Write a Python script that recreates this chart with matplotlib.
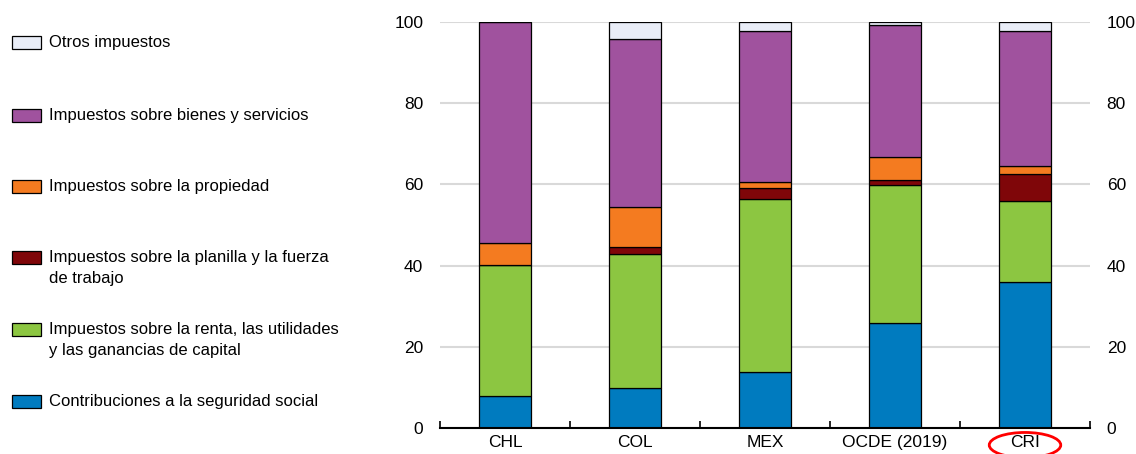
import numpy as np
import matplotlib.pyplot as plt
from matplotlib.patches import Rectangle, Ellipse
import matplotlib.transforms as mtransforms

plt.rcParams['font.family'] = ['Liberation Sans Narrow', 'Liberation Sans', 'DejaVu Sans']

countries = ['CHL', 'COL', 'MEX', 'OCDE (2019)', 'CRI']
# shares of total tax revenue, %
social = [7.8, 9.8, 13.7, 25.9, 35.9]
income = [32.4, 33.0, 42.6, 33.9, 20.1]
payroll = [0.0, 1.9, 2.7, 1.3, 6.6]
property_ = [5.3, 9.7, 1.6, 5.6, 2.0]
goods = [54.5, 41.5, 37.3, 32.6, 33.3]
other = [0.0, 4.1, 2.1, 0.7, 2.1]

labels = ['Contribuciones a la seguridad social',
          'Impuestos sobre la renta, las utilidades\ny las ganancias de capital',
          'Impuestos sobre la planilla y la fuerza\nde trabajo',
          'Impuestos sobre la propiedad',
          'Impuestos sobre bienes y servicios',
          'Otros impuestos']
colors = ['#007bbf', '#8cc641', '#7f0609', '#f47b20', '#a0529e', '#e9edf7']
series = [social, income, payroll, property_, goods, other]

fig = plt.figure(figsize=(11.36, 4.54), dpi=100)
ax = fig.add_axes([440/1136, 26/454, 650/1136, 406/454])

x = np.arange(len(countries))
bottom = np.zeros(len(countries))
for vals, c in zip(series, colors):
    vals = np.array(vals)
    ax.bar(x, vals, bottom=bottom, width=0.4, color=c, edgecolor='black',
           linewidth=0.9, zorder=3)
    bottom += vals

ax.set_xlim(-0.5, len(countries) - 0.5)
ax.set_ylim(0, 100)
ax.set_yticks([0, 20, 40, 60, 80, 100])
ax.yaxis.grid(True, color='#d9d9d9', linewidth=1.5, zorder=0)
ax.tick_params(axis='y', length=0, labelsize=12.5, pad=12,
               labelleft=True, labelright=True)
ax.set_xticks(x)
ax.set_xticklabels(countries)
ax.tick_params(axis='x', which='major', length=0, labelsize=12.5, pad=5)
ax.set_xticks(np.arange(-0.5, len(countries), 1.0), minor=True)
ax.tick_params(axis='x', which='minor', direction='in', length=5, width=1.2)
for s in ['top', 'left', 'right']:
    ax.spines[s].set_visible(False)
ax.spines['bottom'].set_linewidth(1.5)
ax.spines['bottom'].set_zorder(4)

# red ring around CRI
trans = mtransforms.blended_transform_factory(ax.transData, ax.transAxes)
ax.add_patch(Ellipse((4, -0.042), 0.55, 0.062, transform=trans, fill=False,
                     edgecolor='red', linewidth=2, clip_on=False))

# legend drawn by hand, top to bottom
leg_y = [42, 115, 186, 257, 329, 401]
for i, yc in enumerate(leg_y):
    k = len(series) - 1 - i
    fig.patches.append(Rectangle((12/1136, 1 - (yc + 6.5)/454), 29/1136, 13/454,
                                 transform=fig.transFigure, facecolor=colors[k],
                                 edgecolor='black', linewidth=0.9))
    fig.text(49/1136, 1 - (yc - 7)/454, labels[k], fontsize=12, va='top',
             ha='left', linespacing=1.5)

fig.savefig('out.png', dpi=100)
